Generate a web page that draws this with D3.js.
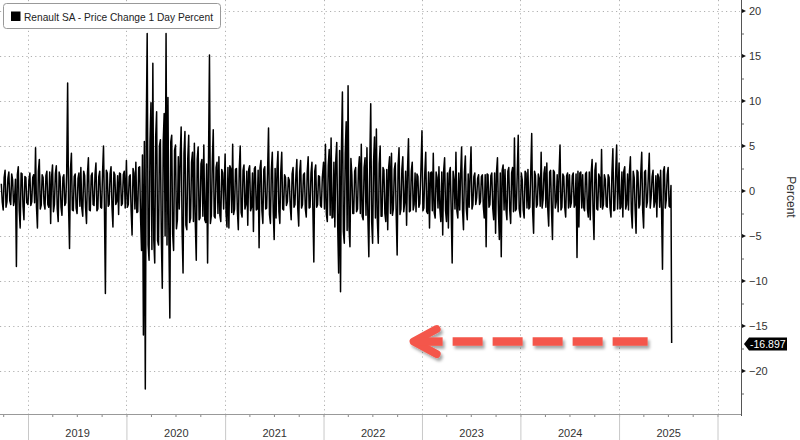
<!DOCTYPE html>
<html><head><meta charset="utf-8">
<script src="https://cdn.jsdelivr.net/npm/d3@7"></script>
<style>
html,body{margin:0;padding:0;background:#fff;}
svg{display:block;}
text{font-family:"Liberation Sans Narrow","Liberation Sans",Arial,sans-serif;}
</style></head><body>
<svg id="chart" width="800" height="440"></svg>
<script>
// ---------- data (daily % change: one reading at the start and one mid-way through each week) ----------
const seriesName = "Renault SA - Price Change 1 Day Percent";
const axisTitle = "Percent";
const yearLabels = ["2019","2020","2021","2022","2023","2024","2025"];
const yTicks = [-20,-15,-10,-5,0,5,10,15,20];
const firstWeek = ["2018-09-24","2019-01-01","2020-01-01","2021-01-01","2022-01-01","2023-01-01","2024-01-01","2025-01-01"];
const change2018 = [0.8,-2.1,2.3,-1.2,2.1,-1.5,1.2,-1.0,-8.4,2.7,-4.1,1.9,-3.2,1.5];
const change2019 = [-1.5,2.0,-1.2,1.8,4.8,-4.1,3.5,-1.6,1.5,-2.0,2.2,-1.8,-3.6,2.9,-1.5,2.8,-3.4,1.6,-2.7,1.8,-1.3,12.0,-6.4,4.2,-2.2,1.9,-2.5,2.0,2.6,-2.8,1.7,-3.6,3.7,-2.2,2.0,-1.6,3.1,-2.0,2.2,-1.9,5.0,-11.4,2.0,-1.5,2.7,-4.0,1.8,-1.2,-2.6,1.9,-1.4,2.2];
const change2020 = [3.4,-1.5,1.8,-4.9,2.0,3.2,-2.3,2.7,-6.6,-16.0,-22.0,17.5,-7.7,9.8,14.2,-8.0,8.8,-6.0,5.7,-10.8,8.6,17.5,10.4,-14.1,6.2,-6.6,5.1,-3.2,-2.0,7.1,-9.1,6.6,-4.3,6.2,-3.0,4.3,5.3,-7.7,4.9,-3.0,3.5,5.1,-3.5,-8.0,15.1,-2.7,6.8,-3.0,3.2,3.8,-3.4,2.0];
const change2021 = [4.1,-4.0,-4.1,2.5,5.2,-2.0,2.5,-4.3,5.0,-2.9,2.9,-1.5,-3.8,2.8,-1.8,-4.5,2.7,-2.0,-6.3,3.4,-3.6,2.7,-1.9,7.0,-3.6,4.3,-5.4,-3.0,4.4,-3.6,4.3,-2.1,1.5,-1.2,1.2,-3.2,2.6,-1.5,3.5,-3.9,3.4,-1.5,2.0,-2.9,3.8,-1.8,3.2,-7.9,2.9,-1.5,1.6,-1.8];
const change2022 = [3.2,5.2,-3.4,4.6,5.9,-2.9,-4.0,5.4,-9.1,-11.2,11.0,-5.8,7.7,11.7,-6.2,1.8,-2.5,2.6,-2.0,3.8,5.2,-3.2,3.7,4.8,-7.3,9.7,-5.8,6.0,6.9,-5.8,5.0,-2.8,2.3,-3.4,-4.3,3.8,4.2,-2.0,3.1,-7.1,4.8,-2.0,3.8,-1.3,-3.8,5.8,-2.2,3.2,-1.5,-2.3,1.6,-1.4];
const change2023 = [6.7,-1.9,4.3,-2.5,-4.1,2.1,4.2,-3.0,1.5,2.7,-3.4,-4.9,3.7,-3.4,-4.1,2.6,-8.0,1.2,4.3,-3.0,-2.1,4.9,-4.3,3.9,-3.2,-1.8,4.9,-1.5,2.0,-0.7,1.8,-1.2,1.8,-3.0,-6.2,1.8,-1.5,2.0,-3.2,-4.7,3.7,-5.4,-7.3,2.9,2.4,-3.2,2.6,-3.6,2.6,5.9,-2.0,6.2];
const change2024 = [-2.9,1.2,-3.0,2.0,2.4,-1.8,6.4,-4.7,1.7,-1.5,1.4,4.3,-1.0,2.7,3.1,-3.9,2.3,-5.4,2.1,-1.2,-2.3,5.1,-1.8,1.6,-2.9,2.0,1.8,-1.3,2.0,-1.5,-7.4,-4.0,2.1,1.8,-2.2,2.1,-2.9,-3.2,3.5,-5.4,3.1,-2.1,1.5,4.6,-1.5,1.3,-1.8,1.5,-2.9,4.7,-2.1,5.1];
const change2025 = [3.1,-1.8,-2.9,2.7,-1.5,-2.1,3.8,-4.1,1.5,-4.7,2.1,-1.5,4.3,-4.1,2.3,-1.2,4.2,-0.7,2.3,-1.2,-2.9,1.5,2.3,-8.7,2.7,-1.0,2.6,-1.8];
// mid-week readings
const mid2018 = [-1.2,1.5,-1.8,1.4,-1.1,1.9,-1.6,1.3,1.8,-2.2,2.0,-1.7,1.6,-1.3];
const mid2019 = [1.2,-1.6,1.5,-1.3,-1.8,2.2,-2.0,1.8,-1.4,1.7,-1.5,2.1,1.6,-2.3,1.9,-2.0,2.1,-1.8,1.5,-1.6,2.0,-1.8,2.4,-2.1,1.6,-1.9,1.4,-1.7,-1.9,2.2,-1.8,1.9,-2.1,1.7,-1.5,1.8,-2.2,1.6,-1.8,2.0,-1.9,2.3,-1.7,1.9,-1.8,2.1,-1.5,1.7,2.0,-1.6,1.8,-1.9];
const mid2020 = [-1.8,1.6,-2.2,2.5,-2.0,-2.4,2.6,-3.0,4.0,5.5,6.5,-6.0,5.5,-6.5,-5.5,6.0,-5.5,5.0,-5.2,5.5,-5.0,-6.0,-5.5,5.5,-4.8,4.5,-4.2,3.8,4.0,-4.5,4.2,-3.8,3.6,-3.5,3.2,-3.4,-3.6,3.5,-3.2,3.0,-2.8,-3.2,3.0,3.5,-3.6,3.2,-2.8,2.6,-2.5,-2.7,2.4,-2.0];
const mid2021 = [-2.5,2.6,2.8,-2.4,-2.6,2.4,-2.2,2.5,-2.4,2.3,-2.0,2.2,2.4,-2.2,2.0,2.5,-2.1,2.3,2.6,-2.2,2.4,-2.0,2.2,-2.6,2.3,-2.4,2.5,2.4,-2.3,2.2,-2.0,1.8,-1.6,1.5,-1.7,1.9,-1.8,1.7,-2.0,2.1,-1.9,1.8,-2.0,2.1,-1.9,2.0,-2.1,2.2,-1.8,1.7,-1.6,1.5];
const mid2022 = [-2.0,-2.6,2.8,-2.7,-3.0,3.2,3.5,-3.8,4.5,4.8,-4.5,4.2,-4.4,-4.0,3.6,-2.5,2.2,-2.3,2.4,-2.5,-2.8,2.6,-2.7,-3.0,3.2,-3.4,3.2,-3.0,-3.2,3.0,-2.8,2.6,-2.5,2.4,2.6,-2.5,-2.7,2.4,-2.6,2.8,-2.6,2.4,-2.3,2.2,2.4,-2.3,2.2,-2.1,2.0,1.9,-1.8,1.7];
const mid2023 = [-2.2,2.0,-2.3,2.1,2.0,-2.2,-2.4,2.1,-1.9,-2.0,2.1,2.3,-2.2,2.0,2.1,-2.3,2.2,-2.0,-2.2,2.0,1.9,-2.2,2.1,-2.0,1.9,1.8,-2.0,1.6,-1.5,1.4,-1.5,1.6,-1.7,1.8,1.9,-1.8,1.7,-1.9,2.0,2.1,-2.2,2.0,2.3,-2.1,-2.0,2.2,-2.1,2.0,-2.3,-2.2,2.1,-2.0];
const mid2024 = [2.0,-2.1,2.2,-1.9,-2.0,2.1,-2.3,2.2,-1.8,1.9,-1.7,-1.9,2.0,-1.8,-2.0,2.1,-2.2,2.3,-1.9,1.8,2.0,-2.1,1.9,-1.8,1.7,-1.9,-1.8,1.7,-1.8,1.9,2.2,2.0,-1.9,-1.8,1.9,-2.0,2.1,2.0,-2.2,2.3,-2.0,1.9,-1.8,-2.0,1.8,-1.7,1.8,-1.9,2.0,-2.2,2.1,-2.0];
const mid2025 = [-2.0,2.1,2.2,-2.0,1.9,2.1,-2.3,2.2,-2.0,2.3,-1.9,2.0,-2.2,2.1,-1.8,1.7,-1.9,1.6,-1.8,1.7,1.9,-1.8,-2.0,2.2,-1.9,1.8,-1.7,0.6];
const lastDate = "2025-07-15";
const lastValue = -16.897;
const arrowTipDate = "2022-11-20";
const arrowTailDate = "2025-04-17";

// ---------- build ----------
const parse = d3.utcParse("%Y-%m-%d");
const weekly = [change2018,change2019,change2020,change2021,change2022,change2023,change2024,change2025];
const midweek = [mid2018,mid2019,mid2020,mid2021,mid2022,mid2023,mid2024,mid2025];
const data = [];
weekly.forEach((arr,k)=>{
  const start = parse(firstWeek[k]);
  arr.forEach((v,i)=>data.push({date:d3.utcDay.offset(start,7*i), value:v}));
  midweek[k].forEach((v,i)=>data.push({date:d3.utcHour.offset(start,168*i+84), value:v}));
});
data.push({date:parse(lastDate), value:lastValue});
data.sort((a,b)=>a.date-b.date);

const W = 800, H = 440;
const plotL = 0, plotR = 741, plotT = 0, plotB = 414;
const svg = d3.select("#chart");

const x = d3.scaleUtc().domain([parse("2019-01-01"), parse("2026-01-01")]).range([28, 717.5]);
const y = d3.scaleLinear().domain([-20, 20]).range([371, 11]);

// defs
const defs = svg.append("defs");
const f = defs.append("filter").attr("id","shadow").attr("x","-20%").attr("y","-50%").attr("width","140%").attr("height","200%");
f.append("feDropShadow").attr("dx",2).attr("dy",3).attr("stdDeviation",1.6).attr("flood-color","#000").attr("flood-opacity",0.35);

// gridlines
const grid = svg.append("g");
grid.selectAll("line.h").data(yTicks).join("line")
  .attr("x1",plotL).attr("x2",plotR-1).attr("y1",d=>y(d)+0.5).attr("y2",d=>y(d)+0.5)
  .attr("stroke","#b0b0b0").attr("stroke-width",1).attr("stroke-dasharray","1.2,3.2");
const yearBounds = d3.utcYear.range(parse("2019-01-01"), parse("2026-01-02"));
grid.selectAll("line.v").data(yearBounds).join("line")
  .attr("x1",d=>Math.round(x(d))+0.5).attr("x2",d=>Math.round(x(d))+0.5).attr("y1",plotT).attr("y2",plotB)
  .attr("stroke","#b0b0b0").attr("stroke-width",1).attr("stroke-dasharray","1.2,3.2");

// series line
const line = d3.line().x(d=>x(d.date)).y(d=>y(d.value));
svg.append("path").datum(data).attr("d",line)
  .attr("fill","none").attr("stroke","#000").attr("stroke-width",1.5).attr("stroke-linejoin","round");

// bottom axis
const bottom = svg.append("g").attr("transform",`translate(0,${plotB})`);
const quarters = d3.utcMonth.every(3).range(parse("2018-10-01"), parse("2026-02-01"));
bottom.append("g").call(d3.axisBottom(x).tickValues(quarters).tickSize(3).tickFormat(""))
  .call(g=>{g.select(".domain").remove(); g.selectAll("line").attr("stroke","#888");});
bottom.append("g").call(d3.axisBottom(x).tickValues(yearBounds).tickSize(H-plotB).tickFormat(""))
  .call(g=>{g.select(".domain").remove(); g.selectAll("line").attr("stroke","#c8c8c8");});
const mids = yearLabels.map(s=>parse(s+"-07-02"));
bottom.append("g").call(d3.axisBottom(x).tickValues(mids).tickSize(0).tickPadding(15).tickFormat(d3.utcFormat("%Y")))
  .call(g=>{g.select(".domain").remove(); g.selectAll("text").attr("font-size",11).attr("fill","#333").attr("font-family",null);});
bottom.append("line").attr("x1",plotL).attr("x2",plotR).attr("y1",0.5).attr("y2",0.5).attr("stroke","#999");

// right axis
const right = svg.append("g").attr("transform",`translate(${plotR},0)`);
const minorY = yTicks.slice(0,-1).map(d=>d+2.5).concat([-22.5]);
right.append("g").call(d3.axisRight(y).tickValues(minorY).tickSize(3).tickFormat(""))
  .call(g=>{g.select(".domain").remove(); g.selectAll("line").attr("stroke","#666");});
right.append("g").call(d3.axisRight(y).tickValues(yTicks).tickSize(0).tickPadding(8))
  .call(g=>{g.select(".domain").remove(); g.selectAll("text").attr("font-size",11).attr("fill","#333").attr("font-family",null);});
right.selectAll("path.mk").data(yTicks).join("path")
  .attr("d",d=>`M0,${y(d)-2.5}L5,${y(d)}L0,${y(d)+2.5}Z`).attr("fill","#111");
right.append("line").attr("x1",0.5).attr("x2",0.5).attr("y1",plotT).attr("y2",plotB+2).attr("stroke","#555");

// axis title
svg.append("text").attr("transform",`translate(787,${y(0)+6}) rotate(90)`)
  .attr("text-anchor","middle").attr("font-size",12).attr("fill","#333").text(axisTitle);

// last value tag
const ly = y(lastValue)+1;
const tag = svg.append("g").attr("transform",`translate(${plotR+3},${ly})`);
tag.append("path").attr("d","M0,0L5,-6.5H43V6.5H5Z").attr("fill","#000");
tag.append("text").attr("x",6).attr("y",0).attr("dy","0.35em").attr("font-size",10.5).attr("fill","#fff").text(lastValue.toFixed(3));

// red dashed arrow annotation
const ay = y(lastValue) - 1.5;
const tipX = x(parse(arrowTipDate)), tailX = x(parse(arrowTailDate));
const arrow = svg.append("g").attr("filter","url(#shadow)").attr("fill","none").attr("stroke","#f4574b");
arrow.append("line").attr("x1",tipX+42).attr("x2",tailX).attr("y1",ay).attr("y2",ay)
  .attr("stroke-width",8.5).attr("stroke-dasharray","30,10,30,10,30,10,30,10,35,10");
arrow.append("path").attr("d",`M${tipX+26},${ay-12.5}L${tipX+3},${ay}L${tipX+26},${ay+12.5}`)
  .attr("stroke-width",8).attr("stroke-linejoin","round").attr("stroke-linecap","round");
arrow.append("line").attr("x1",tipX+4).attr("x2",tipX+32).attr("y1",ay).attr("y2",ay).attr("stroke-width",8.5);

// legend
const lg = svg.append("g");
lg.append("rect").attr("x",3.5).attr("y",3.5).attr("width",217).attr("height",25).attr("rx",3)
  .attr("fill","#fff").attr("stroke","#999");
lg.append("rect").attr("x",11).attr("y",11.5).attr("width",9.5).attr("height",9.5).attr("fill","#000");
lg.append("text").attr("x",24).attr("y",20.5).attr("font-size",11.5).attr("fill","#222")
  .attr("textLength",189).attr("lengthAdjust","spacingAndGlyphs").text(seriesName);
</script>
</body></html>
